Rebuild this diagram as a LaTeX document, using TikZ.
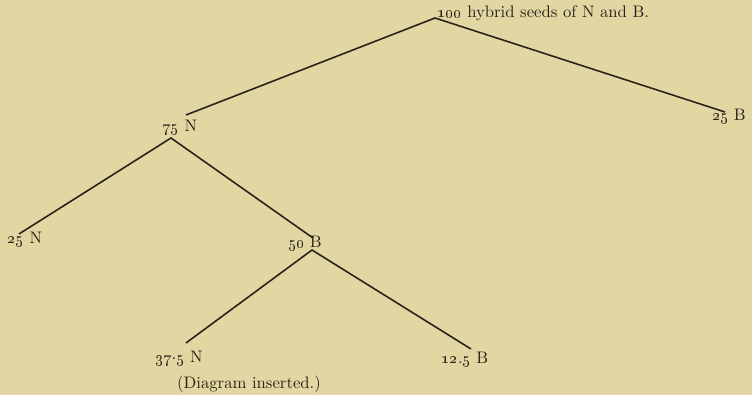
\documentclass[tikz,border=0pt]{standalone}
\definecolor{paper}{RGB}{226,215,163}
\definecolor{ink}{RGB}{40,34,24}
\newcommand{\osn}[1]{\oldstylenums{#1}}
\begin{document}
\begin{tikzpicture}[x=0.02cm,y=-0.02cm,
  lbl/.style={inner sep=0pt,text=ink,font=\fontsize{9.5}{11}\selectfont},
  branch/.style={draw=ink,line width=0.9pt}]

\fill[paper] (0,0) rectangle (752,395);

% branching points
\coordinate (top) at (435,18);
\coordinate (n75) at (186,115);
\coordinate (n75low) at (171,138);
\coordinate (b25) at (725,112);
\coordinate (n25) at (19,234);
\coordinate (b50) at (313,238);
\coordinate (b50low) at (312,250);
\coordinate (n37) at (186,343);
\coordinate (b12) at (471,349);

% labels
\node[lbl,anchor=base west] (seeds) at (437,18) {\osn{100} hybrid seeds of N and B.};
\node[lbl] (lbl75N) at (180,127) {\osn{75} N};
\node[lbl] (lbl25B) at (729,116) {\osn{25} B};
\node[lbl] (lbl25N) at (25,239) {\osn{25} N};
\node[lbl] (lbl50B) at (305,243) {\osn{50} B};
\node[lbl] (lbl37N) at (179,358) {\osn{37}\raisebox{.35ex}{.}\osn{5} N};
\node[lbl] (lbl12B) at (465,359) {\osn{12}.\osn{5} B};
\node[lbl] (note) at (249,384) {(Diagram inserted.)};

% branches
\draw[branch] (n75) -- (top) -- (b25);
\draw[branch] (n25) -- (n75low) -- (b50);
\draw[branch] (n37) -- (b50low) -- (b12);

\end{tikzpicture}
\end{document}
